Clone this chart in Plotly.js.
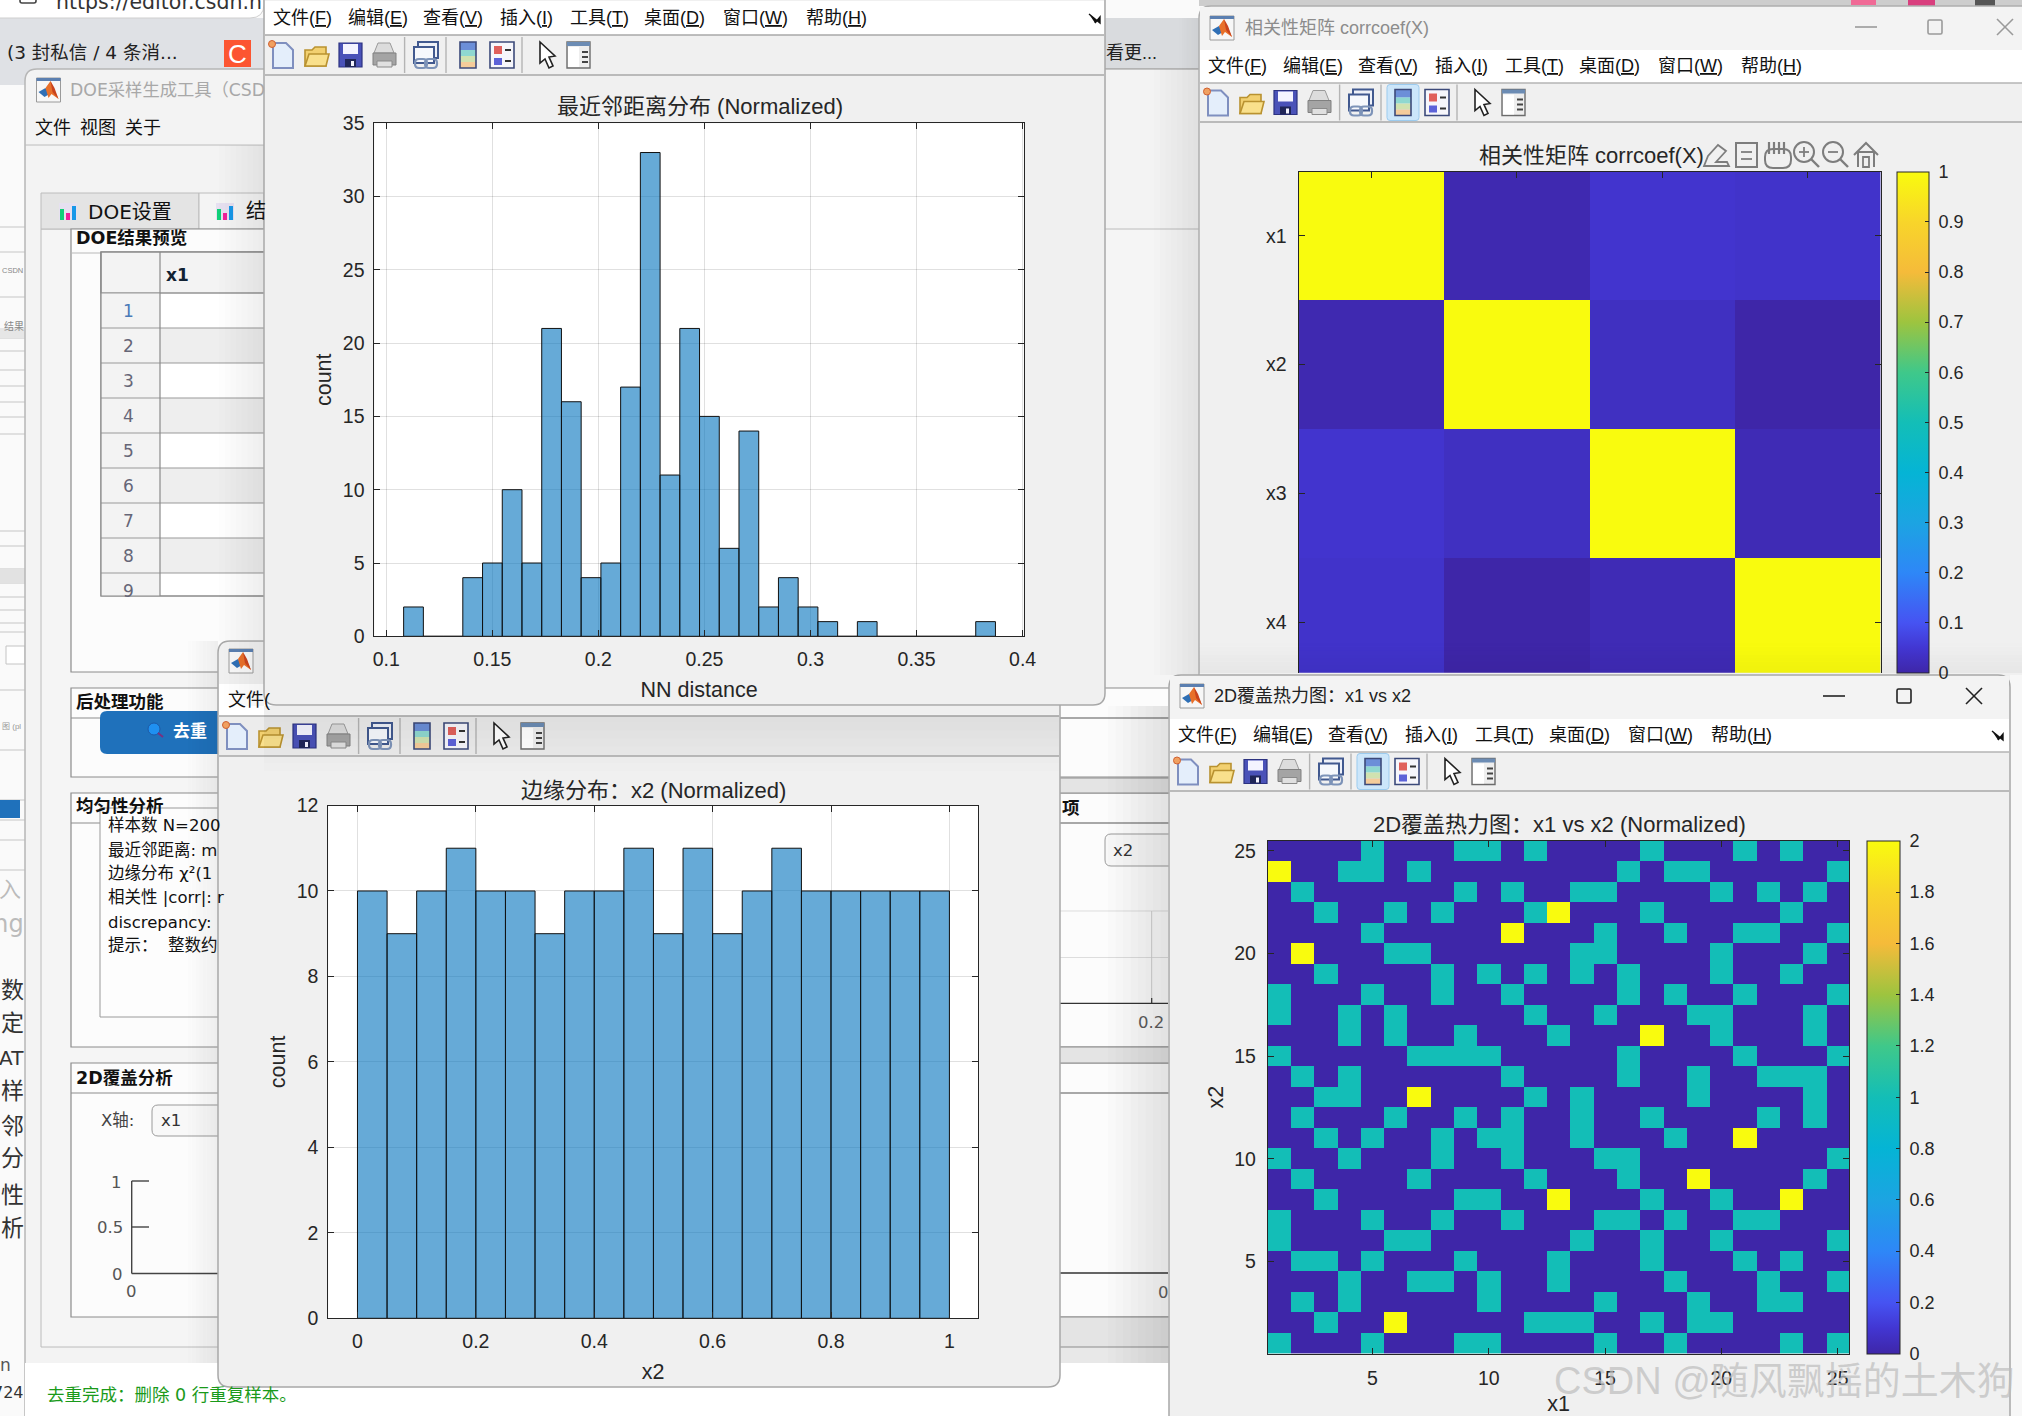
<!DOCTYPE html>
<html>
<head>
<meta charset="utf-8">
<script src="https://cdn.plot.ly/plotly-3.0.1.min.js"></script>
<style>html,body{margin:0;padding:0;background:#fff;overflow:hidden}#chart{width:2022px;height:1416px}</style>
</head>
<body>
<div id="chart"></div>
<script>
// ---------- chart values ----------
const nnBinCenters = [0.11283,0.12213,0.13143,0.14073,0.15003,0.15933,0.16863,0.17793,0.18723,0.19653,0.20583,0.21513,0.22443,0.23373,0.24303,0.25233,0.26163,0.27093,0.28023,0.28953,0.29883,0.30813,0.31743,0.32673,0.33603,0.34533,0.35463,0.36393,0.37323,0.38253];
const nnCounts = [2,0,0,4,5,10,5,21,16,4,5,17,33,11,21,15,6,14,2,4,2,1,0,1,0,0,0,0,0,1];
const nnBinWidth = 0.0093;
const nnXTicks = [0.1,0.15,0.2,0.25,0.3,0.35,0.4];
const nnXLabels = ['0.1','0.15','0.2','0.25','0.3','0.35','0.4'];
const nnYTicks = [0,5,10,15,20,25,30,35];

const x2BinCenters = [0.025,0.075,0.125,0.175,0.225,0.275,0.325,0.375,0.425,0.475,0.525,0.575,0.625,0.675,0.725,0.775,0.825,0.875,0.925,0.975];
const x2Counts = [10,9,10,11,10,10,9,10,10,11,9,11,9,10,11,10,10,10,10,10];
const x2BinWidth = 0.05;
const x2XTicks = [0,0.2,0.4,0.6,0.8,1];
const x2YTicks = [0,2,4,6,8,10,12];

const corrLabels = ['x1','x2','x3','x4'];
const corrPositions = [1,2,3,4];
const corrMatrix = [
  [1,0.01,0.045,0.04],
  [0.01,1,0.03,0],
  [0.045,0.03,1,0.015],
  [0.04,0,0.015,1]
];
const corrBarTicks = [0,0.1,0.2,0.3,0.4,0.5,0.6,0.7,0.8,0.9,1];

const coverageX = [1,2,3,4,5,6,7,8,9,10,11,12,13,14,15,16,17,18,19,20,21,22,23,24,25];
const coverageY = [25,24,23,22,21,20,19,18,17,16,15,14,13,12,11,10,9,8,7,6,5,4,3,2,1];
const coverageRows = [
  [0,0,0,0,1,0,0,0,1,1,0,1,0,0,0,0,1,0,0,0,1,0,1,0,0],
  [2,0,0,1,1,0,1,0,0,0,0,0,0,0,0,1,0,1,1,0,0,0,0,0,1],
  [0,1,0,0,0,0,0,0,1,0,1,0,0,1,1,0,0,0,0,1,0,1,0,1,0],
  [0,0,1,0,0,1,0,1,0,0,0,1,2,0,0,0,1,0,0,0,0,0,1,0,0],
  [0,0,0,0,1,0,0,0,0,0,2,0,0,0,1,0,0,1,0,0,1,1,0,0,1],
  [0,2,0,0,0,1,1,0,0,0,0,0,0,1,1,0,0,0,0,1,0,0,0,1,0],
  [0,0,1,0,0,0,0,1,0,1,0,1,0,1,0,1,0,0,0,1,0,0,1,0,0],
  [1,0,0,0,1,0,0,1,0,0,1,0,0,0,0,1,0,1,0,0,1,0,0,0,1],
  [1,0,0,1,0,1,0,0,0,0,0,1,0,0,1,0,0,0,1,1,0,0,0,1,0],
  [0,0,0,1,0,1,0,0,1,0,0,0,1,0,0,0,2,0,0,1,0,0,0,1,0],
  [1,0,0,0,0,0,1,1,1,1,0,0,0,0,0,1,0,0,0,0,1,0,0,0,1],
  [0,1,0,1,0,0,0,0,0,0,1,0,0,0,0,1,0,0,1,0,0,1,1,1,0],
  [0,0,1,1,0,0,2,0,0,0,0,1,0,1,0,0,0,0,1,0,0,0,0,1,0],
  [0,1,0,0,0,1,0,0,1,0,1,0,0,1,0,0,1,0,0,0,0,1,0,1,0],
  [0,0,1,0,1,0,0,1,0,1,1,0,0,1,0,0,0,1,0,0,2,0,0,0,0],
  [1,0,0,1,0,0,0,1,0,0,1,0,0,0,1,1,0,0,0,0,0,0,0,0,1],
  [0,1,0,0,0,0,1,0,0,0,0,1,0,0,0,1,0,0,2,0,0,0,0,1,0],
  [0,0,1,0,0,0,0,0,1,1,0,0,2,0,0,0,1,0,0,1,0,0,2,0,0],
  [1,0,0,0,1,0,0,1,0,0,1,0,0,0,1,1,0,1,0,0,1,1,0,0,0],
  [1,0,0,0,0,1,1,0,0,0,0,0,0,1,0,0,1,0,0,1,0,0,0,0,1],
  [0,1,1,0,1,0,0,0,1,0,0,0,1,0,0,0,1,0,0,0,1,0,1,0,0],
  [0,0,0,1,0,0,1,1,0,1,0,0,1,0,0,0,0,1,0,0,0,1,0,0,1],
  [0,1,0,1,0,0,0,0,0,1,0,0,0,0,1,0,0,0,1,0,0,1,1,0,0],
  [0,0,1,0,0,2,0,0,0,0,0,1,1,1,0,0,1,0,1,1,0,0,0,0,0],
  [1,0,0,0,1,0,0,0,1,1,0,0,0,0,1,0,0,1,0,0,0,0,1,0,1]
];
const coverageTicks = [5,10,15,20,25];
const coverageBarTicks = [0,0.2,0.4,0.6,0.8,1,1.2,1.4,1.6,1.8,2];

const parula = [[0,'#3E26A8'],[0.05,'#4236D2'],[0.1,'#4653F2'],[0.2,'#2E87F7'],[0.3,'#1CA4E2'],[0.4,'#05B4D5'],[0.5,'#13BEB7'],[0.6,'#3FC88A'],[0.7,'#9DC43F'],[0.8,'#F5BB3A'],[0.9,'#F8D52A'],[1,'#F9FB0E']];

// ---------- page geometry helpers (pixels on the 2022x1416 page) ----------
const W = 2022, H = 1416;
const fx = x => x / W, fy = y => 1 - y / H;
const F = "'Liberation Sans','Noto Sans CJK SC',sans-serif";
const FW = "'DejaVu Sans','Noto Sans CJK SC',sans-serif";
const shapes = [], notes = [];

function rect(x0, y0, x1, y1, fill, line, lw, layer, op) {
  shapes.push({type:'rect', xref:'paper', yref:'paper', x0:fx(x0), x1:fx(x1), y0:fy(y0), y1:fy(y1),
    fillcolor:fill || 'rgba(0,0,0,0)', line:{color:line || 'rgba(0,0,0,0)', width:line ? (lw || 1) : 0},
    layer:layer || 'below', opacity: op === undefined ? 1 : op});
}
function path(pts, fill, line, lw, closed) {
  let d = '';
  pts.forEach((p, i) => {
    if (p.length === 4) d += 'Q' + fx(p[0]) + ',' + fy(p[1]) + ' ' + fx(p[2]) + ',' + fy(p[3]);
    else d += (i ? 'L' : 'M') + fx(p[0]) + ',' + fy(p[1]);
  });
  if (closed !== false) d += 'Z';
  shapes.push({type:'path', xref:'paper', yref:'paper', path:d, layer:'below',
    fillcolor:fill || 'rgba(0,0,0,0)', line:{color:line || 'rgba(0,0,0,0)', width:line ? (lw || 1) : 0}});
}
function line(x0, y0, x1, y1, color, lw) {
  shapes.push({type:'line', xref:'paper', yref:'paper', x0:fx(x0), x1:fx(x1), y0:fy(y0), y1:fy(y1),
    line:{color:color || '#aaa', width:lw || 1}, layer:'below'});
}
function circle(cx, cy, r, fill, col, lw) {
  shapes.push({type:'circle', xref:'paper', yref:'paper', x0:fx(cx-r), x1:fx(cx+r), y0:fy(cy-r), y1:fy(cy+r),
    fillcolor:fill || 'rgba(0,0,0,0)', line:{color:col || 'rgba(0,0,0,0)', width:col ? (lw || 1) : 0}, layer:'below'});
}
function rounded(x0, y0, x1, y1, r, fill, col, lw) {
  path([[x0,y0+r],[x0,y0,x0+r,y0],[x1-r,y0],[x1,y0,x1,y0+r],[x1,y1-r],[x1,y1,x1-r,y1],[x0+r,y1],[x0,y1,x0,y1-r]], fill, col, lw);
}
function txt(x, y, s, o) {
  o = o || {};
  notes.push({xref:'paper', yref:'paper', x:fx(x), y:fy(y), text:s, showarrow:false, borderpad:0,
    xanchor:o.a || 'left', yanchor:'middle', textangle:o.rot || 0,
    font:{family:o.f || F, size:o.s || 18, color:o.c || '#111'}});
}
function shadeV(xEnd, width, y0, y1, maxOp, layer) {   // darkens towards xEnd
  const n = 8, dir = width > 0 ? 1 : -1, w = Math.abs(width) / n;
  for (let i = 0; i < n; i++) {
    const a = xEnd - dir * (i + 1) * w, b = xEnd - dir * i * w;
    rect(Math.min(a,b), y0, Math.max(a,b), y1, 'rgba(0,0,0,' + (maxOp * (n - i) / n * 0.45).toFixed(4) + ')', null, 0, layer);
  }
}
function shadeH(yEnd, height, x0, x1, maxOp, layer) {
  const n = 8, dir = height > 0 ? 1 : -1, w = Math.abs(height) / n;
  for (let i = 0; i < n; i++) {
    const a = yEnd - dir * (i + 1) * w, b = yEnd - dir * i * w;
    rect(x0, Math.min(a,b), x1, Math.max(a,b), 'rgba(0,0,0,' + (maxOp * (n - i) / n * 0.45).toFixed(4) + ')', null, 0, layer);
  }
}
function logo(cx, cy) {
  rect(cx-12, cy-12, cx+12, cy+12, '#f7f7f7', '#9a9a9a', 1);
  rect(cx-12, cy-12, cx+12, cy-9, '#5b7fb0');
  path([[cx-10,cy+2],[cx-3,cy-2],[cx+1,cy+4],[cx-4,cy+7]], '#2f6fb5');
  path([[cx-3,cy-2],[cx+2,cy-9],[cx+10,cy+9],[cx+3,cy+4],[cx,cy+8]], '#e8702a');
  path([[cx+2,cy-9],[cx+6,cy-2],[cx+10,cy+9],[cx+4,cy+2]], '#c9431d');
}
const menuItems = [['文件','F',8],['编辑','E',83],['查看','V',158],['插入','I',235],['工具','T',304.5],['桌面','D',379],['窗口','W',458],['帮助','H',541]];
function menu(left, y, arrowX) {
  menuItems.forEach(m => txt(left + m[2], y, m[0] + '(<span style="text-decoration:underline">' + m[1] + '</span>)', {s:18, c:'#111'}));
  if (arrowX) {
    path([[arrowX-5,y-4],[arrowX+6,y+5],[arrowX+6,y-1],[arrowX+1,y+5]], '#111', '#111', 1.4, false);
  }
}
function toolbar(left, y, hi) {
  const X = r => left + r;
  // new file
  path([[X(9),y-12],[X(22),y-12],[X(29),y-5],[X(29),y+13],[X(9),y+13]], '#e4eefb', '#7f8fbf', 2);
  circle(X(8), y-11, 3.5, '#f0a060', '#d06030', 1);
  // open
  path([[X(41),y-5],[X(48),y-5],[X(51),y-8],[X(62),y-8],[X(62),y+11],[X(41),y+11]], '#f2d070', '#b99230', 1.6);
  path([[X(41),y+11],[X(45),y-1],[X(65),y-1],[X(62),y+11]], '#f9e08c', '#b99230', 1.6);
  // save
  rect(X(75), y-12, X(98), y+12, '#4a52b8', '#2c3280', 1.2);
  rect(X(79), y-11, X(94), y-1, '#f4f4ff');
  rect(X(81), y+4, X(92), y+12, '#202658');
  rect(X(87), y+6, X(90), y+11, '#f4f4ff');
  // print
  path([[X(114),y-12],[X(126),y-12],[X(130),y-2],[X(110),y-2]], '#dcdcdc', '#9a9a9a', 1);
  rect(X(109), y-2, X(132), y+10, '#a4a4a4', '#808080', 1);
  rect(X(113), y+6, X(128), y+12, '#e0e0e0', '#8a8a8a', 1);
  line(X(140.6), y-18, X(140.6), y+18, '#b4b4b4', 1.4);
  // link figure
  rect(X(154), y-13, X(174), y+3, '#eef1f8', '#41598f', 2);
  rect(X(150), y-8, X(170), y+8, '#f6f8fc', '#41598f', 2);
  rounded(X(151), y+4, X(163), y+13, 4, 'rgba(0,0,0,0)', '#7d93b8', 2.2);
  rounded(X(161), y+4, X(173), y+13, 4, 'rgba(0,0,0,0)', '#7d93b8', 2.2);
  line(X(182), y-18, X(182), y+18, '#b4b4b4', 1.4);
  // colorbar
  if (hi) rounded(X(188), y-18, X(220), y+18, 3, '#cce6fa', '#9ccbee', 1);
  rect(X(196), y-13, X(212), y-5, '#6c8fd8');
  rect(X(196), y-5, X(212), y+1, '#8fd8d0');
  rect(X(196), y+1, X(212), y+7, '#d0e2b0');
  rect(X(196), y+7, X(212), y+13, '#f5cc9a');
  rect(X(196), y-13, X(212), y+13, null, '#3c4a7a', 1.6);
  // legend
  rect(X(226), y-13, X(250), y+13, '#f6f6fb', '#3c4a7a', 1.6);
  rect(X(230), y-9, X(238), y-1, '#e0605c');
  rect(X(230), y+3, X(238), y+10, '#5c62d8');
  line(X(241), y-5, X(247), y-5, '#333', 2);
  line(X(241), y+6, X(247), y+6, '#333', 2);
  line(X(258), y-18, X(258), y+18, '#b4b4b4', 1.4);
  // pointer
  path([[X(276),y-13],[X(276),y+8],[X(281),y+4],[X(285),y+13],[X(289),y+11],[X(285),y+2],[X(291),y+1]], '#fff', '#222', 1.6);
  // panel
  rect(X(303), y-13, X(326), y+13, '#eeeeee', '#6c6c6c', 1.4);
  rect(X(303), y-13, X(326), y-9, '#6c8cb4');
  rect(X(304), y-8, X(315), y+12, '#fff');
  [-3,2,7].forEach(d => line(X(318), y+d, X(324), y+d, '#444', 2));
}
function winControls(minX, maxX, closeX, y, col) {
  line(minX-11, y, minX+11, y, col, 1.6);
  rounded(maxX-7, y-7, maxX+7, y+7, 1.5, 'rgba(0,0,0,0)', col, 1.6);
  line(closeX-8, y-8, closeX+8, y+8, col, 1.6);
  line(closeX-8, y+8, closeX+8, y-8, col, 1.6);
}

// ---------- backdrop (browser and other windows) ----------
rect(0, 0, W, H, '#fafafa');
rect(0, 18, 264, 85, '#dfe1e5');
rect(1105, 18, 1199, 69, '#d9dbde');
line(1105, 69, 1199, 69, '#aaa', 2);
rounded(-20, -30, 264, 18, 14, '#ffffff', '#cfcfcf', 1);
txt(55, 2, 'https://editor.csdn.n', {s:20.5, f:FW, c:'#333'});
rounded(20, -6, 36, 3, 2, '#fff', '#444', 1.6);
txt(6, 53, '(3 封私信 / 4 条消...', {s:18.5, f:FW, c:'#222'});
rect(224, 40, 251, 67, '#fc5531');
txt(237.5, 54, 'C', {s:26, a:'center', c:'#ffffff', f:F});
txt(1105, 53, '看更...', {s:18, f:F, c:'#222'});
rect(1199, 0, W, 6, '#cdcdcd');
rect(1851, 0, 1876, 5, '#f06a96');
rect(1908, 0, 1935, 6, '#d93f7e');
rect(1975, 0, 1995, 6, '#555');
[227,252,297,338,351,370,386,402,417,434,531,546,569,583,597,610,623,632,690,750,800,820,840,870].forEach(y => line(0, y, 25, y, '#c6c6c6', 1));
rect(0, 328, 25, 338, '#e6e6e6');
rect(0, 569, 25, 583, '#e2e2e2');
rect(6, 646, 25, 664, '#ffffff', '#c4c4c4', 1);
rect(0, 800, 20, 818, '#1f71bb');
txt(1, 271, 'CSDN', {s:7.5, c:'#888'});
txt(3, 326, '结果', {s:10, c:'#888'});
txt(1, 726, '图 (pl', {s:8, c:'#999'});
txt(22, 889, '入', {s:22, a:'right', c:'#bbb', f:FW});
txt(25, 924, 'mg', {s:24, a:'right', c:'#bbb', f:FW});
[['数',990],['定',1023],['样',1091],['邻',1126],['分',1158],['性',1195],['析',1228]].forEach(t => txt(25, t[1], t[0], {s:23, a:'right', c:'#333', f:FW}));
txt(25, 1058, 'AT', {s:20, a:'right', c:'#333', f:FW});
txt(12, 1365, 'yn', {s:17, a:'right', c:'#555', f:FW});
txt(25, 1392, '724', {s:16, a:'right', c:'#333', f:"'DejaVu Sans'"});

// ---------- DOE tool window ----------
rounded(25, 69, 1300, 1440, 12, '#f3f3f3', '#b6b6b6', 1.5);
logo(48.5, 90);
txt(68.5, 90, 'DOE采样生成工具（CSD', {s:17.3, f:FW, c:'#a8a8a8'});
[['文件',34],['视图',79],['关于',124]].forEach(t => txt(t[1], 128, t[0], {s:18}));
line(25, 145, 264, 145, '#bcbcbc', 1);
rect(41, 229, 1300, 1347, '#f5f5f5', '#bcbcbc', 1);
rect(41, 193, 199, 229, '#e4e4e4', '#bcbcbc', 1);
rect(199, 193, 264, 229, '#f4f4f4', '#bcbcbc', 1);
function tabIcon(x) {
  rect(x, 203, x+18, 220, '#e6e0f0');
  rect(x+1, 209, x+5, 220, '#10d078');
  rect(x+7, 213, x+11, 220, '#f0209a');
  rect(x+13, 206, x+17, 220, '#1898e8');
}
tabIcon(59); tabIcon(216);
txt(87, 212, 'DOE设置', {s:20, f:FW});
txt(245, 211, '结', {s:20, f:FW});

// DOE result panel and table
rect(71, 229, 300, 672, '#fcfcfc', '#8c8c8c', 1.2);
line(71, 253, 264, 253, '#b8b8b8', 1);
txt(75, 238, '<b>DOE结果预览</b>', {s:17.5, f:FW});
rect(101, 252, 300, 596, '#ffffff', '#8a8a8a', 1.2);
rect(101, 252, 300, 293, '#f3f3f3', '#8a8a8a', 1.2);
rect(101, 293, 160, 596, '#f3f3f3');
[0,1,2,3,4,5,6,7,8].forEach(i => {
  const y0 = 293 + i * 35;
  if (i % 2) rect(160, y0, 300, y0 + 35, '#eeeeee');
  line(101, y0, 300, y0, '#999', 1);
});
line(160, 252, 160, 596, '#8a8a8a', 1.2);
rect(101, 252, 300, 596, null, '#8a8a8a', 1.2);
txt(165, 275, '<b>x1</b>', {s:17, f:FW, c:'#123'});
[1,2,3,4,5,6,7,8,9].forEach((n, i) => txt(128, 311 + i * 35, String(n), {s:17, f:FW, a:'center', c: i === 0 ? '#4a7ab8' : '#667'}));

// other panels
[[688,777,718],[793,1047,823],[1063,1317,1093]].forEach(p => {
  rect(71, p[0], 1300, p[1], '#fcfcfc', '#8c8c8c', 1.2);
  line(71, p[2], 1300, p[2], '#8c8c8c', 1);
});
txt(75, 702, '<b>后处理功能</b>', {s:17.5, f:FW});
rounded(100, 711, 240, 754, 7, '#1f71bb');
circle(154, 729, 6, '#1f90f0', '#1b5aa8', 1);
line(158, 733, 163, 737, '#7a3080', 2);
txt(190, 731, '<b>去重</b>', {s:17, a:'center', c:'#ffffff', f:FW});
txt(75, 806, '<b>均匀性分析</b>', {s:17.5, f:FW});
rect(100, 808, 300, 1017, '#fdfdfd', '#9a9a9a', 1);
[['样本数 N=200',825.5],['最近邻距离: m',850],['边缘分布 χ²(1',873.5],['相关性 |corr|: r',897],['discrepancy:',922],['提示：  整数约',945]].forEach(t => txt(107, t[1], t[0], {s:16.5, f:FW}));
txt(75, 1078, '<b>2D覆盖分析</b>', {s:17.5, f:FW});
txt(100, 1120, 'X轴:', {s:16.5, f:FW, c:'#444'});
rounded(152, 1105, 260, 1136, 6, '#f8f8f8', '#9a9a9a', 1);
txt(160, 1120, 'x1', {s:16.5, f:FW, c:'#333'});
line(131.7, 1181, 131.7, 1273.5, '#444', 1.4);
line(131.7, 1181, 149, 1181, '#444', 1.4);
line(131.7, 1227, 149, 1227, '#444', 1.4);
line(131.7, 1273.5, 300, 1273.5, '#444', 1.4);
txt(123, 1182, '1', {s:16.5, a:'right', f:FW, c:'#555'});
txt(124, 1227, '0.5', {s:16.5, a:'right', f:FW, c:'#555'});
txt(124, 1274, '0', {s:16.5, a:'right', f:FW, c:'#555'});
txt(131, 1291, '0', {s:16.5, a:'center', f:FW, c:'#555'});

// strip of the right-hand column visible between the windows
rect(1060, 778, 1300, 793, '#e4e4e4');
rect(1060, 1047, 1300, 1063, '#e4e4e4');
rect(1060, 1317, 1300, 1347, '#e4e4e4');
rect(1060, 1347, 1300, 1363, '#e8e8e8');
line(1060, 718, 1300, 718, '#8c8c8c', 1);
[778,793,823,1047,1063,1093,1317,1347].forEach(y => line(1060, y, 1300, y, '#8c8c8c', 1));
txt(1081, 808, '<b>项</b>', {s:17.5, a:'right', f:FW});
rounded(1105, 834, 1300, 866, 6, '#f8f8f8', '#9a9a9a', 1);
txt(1112, 850, 'x2', {s:16.5, f:FW, c:'#333'});
line(1060, 911, 1168, 911, '#dddddd', 1);
line(1060, 957.5, 1168, 957.5, '#dddddd', 1);
line(1151.7, 911, 1151.7, 1003, '#cccccc', 1);
line(1060, 1003.4, 1168, 1003.4, '#333', 1.4);
line(1151.7, 998, 1151.7, 1003, '#333', 1.2);
txt(1151, 1022, '0.2', {s:16.5, a:'center', f:FW, c:'#555'});
line(1060, 1273, 1168, 1273, '#333', 1.4);
txt(1157, 1292, '0', {s:16.5, f:FW, c:'#555'});
rect(25, 1363, 1300, 1440, '#ffffff');
txt(46, 1394.5, '去重完成：删除 0 行重复样本。', {s:17.5, f:FW, c:'#1a9a1a'});
shadeV(218, 30, 641, 1363, 0.12);
shadeV(264, 45, 145, 641, 0.14);
shadeV(1168, 60, 706, 1363, 0.22);
shadeV(1199, 45, 69, 675, 0.16);
shadeV(1199, 20, 18, 69, 0.1);

// ---------- x2 histogram window ----------
rounded(218, 641, 1060, 1387, 12, '#f0f0f0', '#a8a8a8', 1.5);
logo(241, 661);
rect(219, 684, 1059, 716, '#ffffff');
line(219, 716, 1059, 716, '#a8a8a8', 1.5);
rect(219, 717, 1059, 756, '#ececec');
line(219, 756, 1059, 756, '#a8a8a8', 1.5);
toolbar(218, 736, false);
txt(227, 700, '文件(', {s:18});
shadeH(706, -65, 264, 1059, 0.14);
shadeV(264, 40, 641, 706, 0.1);
rect(328.3, 805.5, 978, 1318.3, '#ffffff');

// ---------- nearest-neighbour histogram window ----------
rounded(264, -30, 1105, 705, 12, '#f0f0f0', '#a8a8a8', 1.5);
rect(265, 1, 1104, 35, '#ffffff');
line(265, 35, 1104, 35, '#a8a8a8', 1.5);
line(265, 75, 1104, 75, '#a8a8a8', 1.5);
menu(264, 18, 1094);
toolbar(264, 55, false);
rect(374.4, 123.2, 1023.7, 636.3, '#ffffff');

// ---------- correlation window ----------
rounded(1199, 6, 2050, 700, 12, '#f0f0f0', '#aeaeae', 1.5);
rect(1200, 7, W, 50, '#f3f3f3');
rect(1200, 50, W, 83, '#ffffff');
line(1200, 83, W, 83, '#b4b4b4', 1.5);
line(1200, 122, W, 122, '#a8a8a8', 1.5);
logo(1222, 28);
txt(1244, 28, '相关性矩阵 corrcoef(X)', {s:18, c:'#8c8c8c'});
winControls(1866, 1935, 2005, 27, '#9a9a9a');
menu(1199, 66);
toolbar(1199, 102.5, true);
// axes toolbar next to the title
(function () {
  const c = '#7d7d7d', y = 155;
  path([[1704,y+11],[1708,y+1],[1718,y-10],[1726,y-4],[1716,y+7],[1727,y+7],[1729,y+11]], null, c, 1.8);
  rect(1736, y-12, 1757, y+12, null, c, 2);
  line(1741, y-3, 1752, y-3, c, 1.8); line(1741, y+4, 1752, y+4, c, 1.8);
  rounded(1765, y-6, 1791, y+13, 8, null, c, 2);
  [1769,1774,1779,1784].forEach(x => line(x, y-13, x, y-1, c, 2.2));
  circle(1804, y-3, 10, null, c, 2); line(1811, y+4, 1819, y+12, c, 2.4);
  line(1799, y-3, 1809, y-3, c, 1.8); line(1804, y-8, 1804, y+2, c, 1.8);
  circle(1833, y-3, 10, null, c, 2); line(1840, y+4, 1848, y+12, c, 2.4);
  line(1828, y-3, 1838, y-3, c, 1.8);
  path([[1854,y],[1866,y-12],[1878,y]], null, c, 2, false);
  path([[1858,y+12],[1858,y-3],[1874,y-3],[1874,y+12]], null, c, 2, false);
  rect(1863, y+2, 1869, y+12, null, c, 1.8);
})();
shadeH(673, 30, 1199, W, 0.08, 'above');

// ---------- coverage heat map window ----------
rect(2010, 675, W, H, '#f7f7f7');
rounded(1169, 675, 2010, 1440, 12, '#f0f0f0', '#a8a8a8', 1.5);
rect(1170, 676, 2009, 719, '#f3f3f3');
rect(1170, 719, 2009, 752, '#ffffff');
line(1170, 752, 2009, 752, '#b4b4b4', 1.5);
line(1170, 791, 2009, 791, '#a8a8a8', 1.5);
logo(1192, 696);
txt(1213, 696, '2D覆盖热力图：x1 vs x2', {s:18, c:'#222'});
winControls(1834, 1904, 1974, 696, '#222');
menu(1169, 735, 1997);
toolbar(1169, 771.5, true);

// ---------- chart titles and watermark ----------
txt(700.4, 107, '最近邻距离分布 (Normalized)', {s:22, a:'center', c:'#262626'});
txt(653.5, 790, '边缘分布：x2 (Normalized)', {s:22, a:'center', c:'#262626'});
txt(1591, 155, '相关性矩阵 corrcoef(X)', {s:22, a:'center', c:'#262626'});
txt(1559, 824.5, '2D覆盖热力图：x1 vs x2 (Normalized)', {s:22, a:'center', c:'#262626'});
txt(1784, 1381, 'CSDN @随风飘摇的土木狗', {s:38, a:'center', c:'rgba(190,190,190,0.72)', f:F});

// ---------- axes ----------
const tickFont = {family:F, size:19.5, color:'#262626'};
const titleFont = {family:F, size:21.5, color:'#262626'};
function axis(extra) {
  return Object.assign({showline:true, linecolor:'#262626', linewidth:1, mirror:'ticks', ticks:'inside', ticklen:6,
    tickcolor:'#262626', tickwidth:1, tickfont:tickFont, showgrid:false, zeroline:false, fixedrange:true, anchor:'free', tickmode:'array'}, extra);
}
const gridOn = {showgrid:true, gridcolor:'rgba(0,0,0,0.12)', gridwidth:1};
const dom = (a, b) => [fx(a), fx(b)];
const domY = (top, bottom) => [fy(bottom), fy(top)];

const layout = {
  width:W, height:H, margin:{l:0, r:0, t:0, b:0, pad:0},
  paper_bgcolor:'#ffffff', plot_bgcolor:'#ffffff',
  showlegend:false, barmode:'overlay', shapes:shapes, annotations:notes,
  font:{family:F},
  // nearest-neighbour histogram
  xaxis:axis(Object.assign({domain:dom(374.4,1023.7), range:[0.0944,0.4005], tickvals:nnXTicks, ticktext:nnXLabels, anchor:'y', ticklabelstandoff:5,
    title:{text:'NN distance', font:titleFont, standoff:13}}, gridOn)),
  yaxis:axis(Object.assign({domain:domY(123.2,636.3), range:[0,35], tickvals:nnYTicks, anchor:'x', ticklabelstandoff:5,
    title:{text:'count', font:titleFont, standoff:5}}, gridOn)),
  // x2 histogram
  xaxis2:axis(Object.assign({domain:dom(328.3,978), range:[-0.0493,1.0483], tickvals:x2XTicks, anchor:'y2', ticklabelstandoff:5,
    title:{text:'x2', font:titleFont, standoff:13}}, gridOn)),
  yaxis2:axis(Object.assign({domain:domY(805.5,1318.3), range:[0,12], tickvals:x2YTicks, anchor:'x2', ticklabelstandoff:5,
    title:{text:'count', font:titleFont, standoff:5}}, gridOn)),
  // correlation matrix (lower part is hidden behind the heat map window)
  xaxis3:axis({domain:dom(1298.6,1880.6), range:[0.5,4.5], tickvals:corrPositions, anchor:'y3', side:'top', showticklabels:false, mirror:false}),
  yaxis3:axis({domain:domY(171.6,672.8), range:[4.394,0.5], tickvals:corrPositions, ticktext:corrLabels, anchor:'x3', ticklabelstandoff:7}),
  // coverage heat map
  xaxis4:axis({domain:dom(1267.8,1849.3), range:[0.5,25.5], tickvals:coverageTicks, anchor:'y4', ticklabelstandoff:7,
    title:{text:'x1', font:titleFont, standoff:13}}),
  yaxis4:axis({domain:domY(840.5,1353.7), range:[0.5,25.5], tickvals:coverageTicks, anchor:'x4', ticklabelstandoff:7,
    title:{text:'x2', font:titleFont, standoff:4}})
};

function bar(x, y, width, xa, ya) {
  return {type:'bar', x:x, y:y, width:width, xaxis:xa, yaxis:ya, hoverinfo:'skip',
    marker:{color:'rgba(0,114,189,0.6)', line:{color:'#111111', width:1}}};
}
function colorbar(xLeft, top, bottom, vals) {
  return {x:fx(xLeft), xanchor:'left', xpad:0, thicknessmode:'pixels', thickness:0,
    y:fy(bottom), yanchor:'bottom', ypad:0, lenmode:'fraction', len:(bottom - top) / H,
    outlinecolor:'#262626', outlinewidth:1, ticks:'inside', ticklen:4, tickcolor:'#262626',
    tickmode:'array', tickvals:vals, ticktext:vals.map(v => '\u00a0' + v),
    tickfont:{family:F, size:18, color:'#262626'}};
}
const data = [
  bar(nnBinCenters, nnCounts, nnBinWidth, 'x', 'y'),
  bar(x2BinCenters, x2Counts, x2BinWidth, 'x2', 'y2'),
  {type:'heatmap', x:corrPositions, y:corrPositions, z:corrMatrix, xaxis:'x3', yaxis:'y3', zmin:0, zmax:1, colorscale:parula, hoverinfo:'skip',
    colorbar:Object.assign(colorbar(1897.4, 171.6, 672.8, corrBarTicks), {thickness:31.6})},
  {type:'heatmap', x:coverageX, y:coverageY, z:coverageRows, xaxis:'x4', yaxis:'y4', zmin:0, zmax:2, colorscale:parula, hoverinfo:'skip',
    colorbar:Object.assign(colorbar(1867, 840.5, 1353.7, coverageBarTicks), {thickness:33})}
];
Plotly.newPlot('chart', data, layout, {displayModeBar:false, responsive:false, staticPlot:true});
</script>
</body>
</html>
